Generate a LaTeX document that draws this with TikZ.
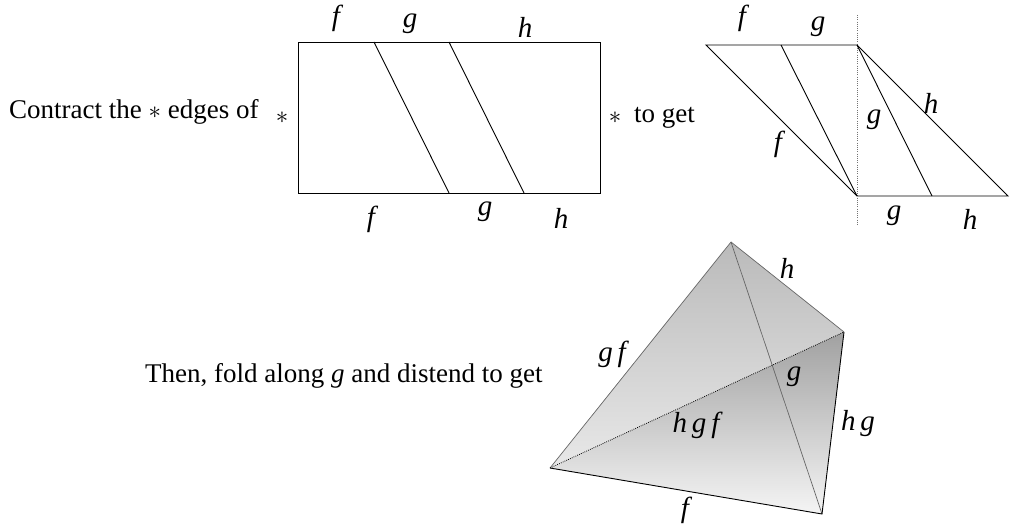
\documentclass[tikz,border=0pt]{standalone}
\usepackage{fontspec}
\setmainfont{Liberation Serif}
\begin{document}
\begin{tikzpicture}[
    x=1pt, y=-1pt,
    label/.style={inner sep=0pt, font=\fontsize{29}{32}\selectfont\itshape},
    caption/.style={inner sep=0pt, anchor=base west, font=\fontsize{27}{30}\selectfont},
    star/.style={inner sep=0pt, font=\fontsize{27}{30}\selectfont},
    edgeline/.style={line width=0.9pt, black},
    foldline/.style={line width=0.7pt, black!60},
    dotline/.style={line width=1pt, dash pattern=on 1pt off 1.2pt, black!55},
    creaseline/.style={line width=0.8pt, dash pattern=on 0.8pt off 1.2pt, black}
  ]
    \useasboundingbox (0,0) rectangle (1010,529);

    % rectangle
    \coordinate (r1) at (298,42);
    \coordinate (r2) at (600,42);
    \coordinate (r3) at (600,193);
    \coordinate (r4) at (298,193);
    \coordinate (t1) at (374,42);
    \coordinate (t2) at (449,42);
    \coordinate (b1) at (449,193);
    \coordinate (b2) at (524,193);
    \draw[edgeline] (r1) -- (r2) -- (r3) -- (r4) -- cycle;
    \draw[edgeline] (t1) -- (b1);
    \draw[edgeline] (t2) -- (b2);

    % contracted
    \coordinate (c1) at (706,45);
    \coordinate (c2) at (781,45);
    \coordinate (c3) at (857,45);
    \coordinate (c4) at (857,196);
    \coordinate (c5) at (932,196);
    \coordinate (c6) at (1008,196);
    \coordinate (v1) at (857,15);
    \coordinate (v2) at (857,225);
    \draw[dotline] (v1) -- (v2);
    \draw[edgeline] (c1) -- (c3) -- (c6) -- (c4) -- cycle;
    \draw[edgeline] (c2) -- (c4);
    \draw[edgeline] (c3) -- (c5);

    % tetrahedron
    \coordinate (top) at (731,242);
    \coordinate (right) at (844,332);
    \coordinate (left) at (550,468);
    \coordinate (bottom) at (822,514);
    \shade[top color=black!27, bottom color=black!9] (top) -- (right) -- (left) -- cycle;
    \shade[top color=black!37, bottom color=black!4] (right) -- (bottom) -- (left) -- cycle;
    \draw[foldline] (left) -- (top) -- (right);
    \draw[foldline] (top) -- (bottom);
    \draw[edgeline] (right) -- (bottom) -- (left);
    \draw[creaseline] (left) -- (right);

    \node[caption] (contract) at (9,119) {Contract the $*$ edges of};
    \node[caption] (toget) at (634,123) {to get};
    \node[caption] (fold) at (145,383) {Then, fold along \textit{g} and distend to get};
    \node[star] (s1) at (282,118) {$*$};
    \node[star] (s2) at (615,118) {$*$};

    \node[label] (a1) at (336,18) {f};
    \node[label] (a2) at (410,24) {g};
    \node[label] (a3) at (525,27) {h};
    \node[label] (a4) at (371,219) {f};
    \node[label] (a5) at (485,212) {g};
    \node[label] (a6) at (561,218) {h};
    \node[label] (a7) at (742,18) {f};
    \node[label] (a8) at (818,27) {g};
    \node[label] (a9) at (778,144) {f};
    \node[label] (a10) at (874,120) {g};
    \node[label] (a11) at (931,103) {h};
    \node[label] (a12) at (894,216) {g};
    \node[label] (a13) at (970,219) {h};
    \node[label] (a14) at (787,268) {h};
    \node[label] (a15) at (612,354) {g\,f};
    \node[label] (a16) at (794,377) {g};
    \node[label] (a17) at (696,425) {h\,g\,f};
    \node[label] (a18) at (858,424) {h\,g};
    \node[label] (a19) at (685,510) {f};
\end{tikzpicture}
\end{document}
